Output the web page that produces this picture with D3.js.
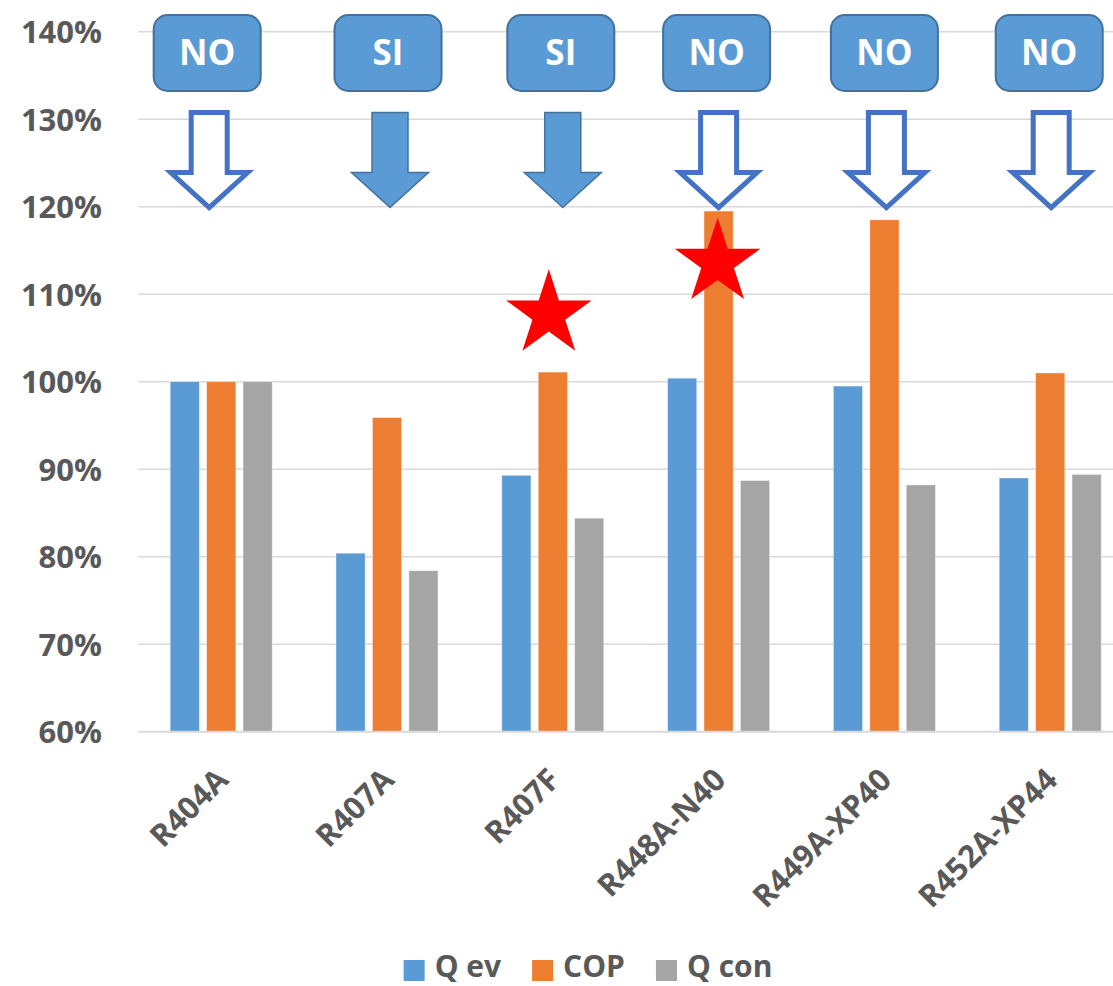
<!DOCTYPE html>
<html>
<head>
<meta charset="utf-8">
<script src="https://cdn.jsdelivr.net/npm/d3@7"></script>
<style>
  html, body { margin: 0; padding: 0; background: #ffffff; }
  svg { display: block; }
  text { font-family: "Open Sans", "Noto Sans", sans-serif; font-weight: 700; }
</style>
</head>
<body>
<svg id="chart" width="1113" height="986"></svg>
<script>
// ---- data ----
const categories = ["R404A", "R407A", "R407F", "R448A-N40", "R449A-XP40", "R452A-XP44"];
const seriesNames = ["Q ev", "COP", "Q con"];
const qEv  = [1.000, 0.804, 0.893, 1.004, 0.995, 0.890];
const cop  = [1.000, 0.959, 1.011, 1.195, 1.185, 1.010];
const qCon = [1.000, 0.784, 0.844, 0.887, 0.882, 0.894];
const yTicks = [0.6, 0.7, 0.8, 0.9, 1.0, 1.1, 1.2, 1.3, 1.4];
// annotations
const verdicts = ["NO", "SI", "SI", "NO", "NO", "NO"];
const starCategories = ["R407F", "R448A-N40"];
const starValues = [1.077, 1.136];

// ---- layout (not data) ----
const colors = ["#5b9bd5", "#ed7d31", "#a5a5a5"];
const boxDx = [-14, 1, 8, -2, 0, -1];
const starDx = [-4, -1];
const W = 1113, H = 986;
const plot = { left: 138.3, right: 1133.1, top: 31.7, bottom: 731.7 };
const textColor = "#595959";

const svg = d3.select("#chart");

const x = d3.scaleBand().domain(categories).range([plot.left, plot.right]).padding(0);
const groupW = 102;
const xs = d3.scaleBand().domain(seriesNames).range([0, groupW]).paddingInner(0.2).paddingOuter(0);
const y = d3.scaleLinear().domain([0.6, 1.4]).range([plot.bottom, plot.top]);

// gridlines
svg.append("g").selectAll("line").data(yTicks.slice(1)).join("line")
  .attr("x1", plot.left).attr("x2", W)
  .attr("y1", d => y(d)).attr("y2", d => y(d))
  .attr("stroke", "#d9d9d9").attr("stroke-width", 1.5);

// y axis labels
const yAxis = d3.axisLeft(y).tickValues(yTicks).tickFormat(d3.format(".0%")).tickSize(0).tickPadding(0);
const gy = svg.append("g").attr("transform", `translate(102,0)`).call(yAxis);
gy.select(".domain").remove();
gy.selectAll("text").attr("fill", textColor).attr("font-size", 31)
  .attr("font-family", '"Open Sans", sans-serif').attr("font-weight", 700)
  .attr("dy", "0.35em").attr("x", 0);

// bars
const seriesData = [qEv, cop, qCon];
const groups = svg.append("g").selectAll("g").data(categories).join("g")
  .attr("transform", d => `translate(${x(d) + (x.bandwidth() - groupW) / 2},0)`);
groups.selectAll("rect").data((c, i) => seriesNames.map((s, j) => ({ s, j, v: seriesData[j][i] })))
  .join("rect")
  .attr("x", d => xs(d.s))
  .attr("width", xs.bandwidth())
  .attr("y", d => y(d.v))
  .attr("height", d => y(0.6) - y(d.v))
  .attr("fill", d => colors[d.j])
  .attr("stroke", "#ffffff").attr("stroke-width", 0.75).attr("stroke-opacity", 0.5);

// bottom axis line
svg.append("line").attr("x1", plot.left).attr("x2", W)
  .attr("y1", y(0.6)).attr("y2", y(0.6))
  .attr("stroke", "#d9d9d9").attr("stroke-width", 2);

// x labels
const xAxis = d3.axisBottom(x).tickSize(0).tickPadding(0);
const gx = svg.append("g").attr("transform", `translate(0,${plot.bottom})`).call(xAxis);
gx.select(".domain").remove();
gx.selectAll(".tick text")
  .attr("fill", textColor).attr("font-size", 31)
  .attr("font-family", '"Open Sans", sans-serif').attr("font-weight", 700)
  .attr("text-anchor", "end").attr("y", 0).attr("dy", 0)
  .attr("transform", "translate(9,50) rotate(-45)");

// star shape
function starPath(R) {
  const r = R * 0.382;
  const pts = [];
  for (let k = 0; k < 10; k++) {
    const rad = k % 2 === 0 ? R : r;
    const a = -Math.PI / 2 + k * Math.PI / 5;
    pts.push([rad * Math.cos(a), rad * Math.sin(a)]);
  }
  return "M" + pts.map(p => p.join(",")).join("L") + "Z";
}
svg.append("g").selectAll("path").data(starCategories).join("path")
  .attr("d", starPath(45))
  .attr("transform", (c, i) => `translate(${x(c) + x.bandwidth() / 2 + starDx[i]},${y(starValues[i])})`)
  .attr("fill", "#ff0000");

// verdict boxes and arrows
const ann = svg.append("g").selectAll("g").data(categories).join("g")
  .attr("transform", (c, i) => `translate(${x(c) + x.bandwidth() / 2 + boxDx[i]},0)`);
ann.append("rect")
  .attr("x", -53.5).attr("y", 15).attr("width", 107).attr("height", 76)
  .attr("rx", 14).attr("ry", 14)
  .attr("fill", "#5b9bd5").attr("stroke", "#41719c").attr("stroke-width", 2);
ann.append("text")
  .attr("x", 0).attr("y", 53).attr("dy", "0.35em")
  .attr("text-anchor", "middle").attr("fill", "#ffffff")
  .attr("font-size", 35)
  .text((c, i) => verdicts[i]);
function arrowPath() {
  const sw = 18, hw = 38.5, top = 112.5, hy = 172.5, tip = 207.5;
  return `M${-sw},${top}L${sw},${top}L${sw},${hy}L${hw},${hy}L0,${tip}L${-hw},${hy}L${-sw},${hy}Z`;
}
ann.append("path")
  .attr("d", arrowPath())
  .attr("transform", "translate(2,0)")
  .attr("fill", (c, i) => verdicts[i] === "SI" ? "#5b9bd5" : "#ffffff")
  .attr("stroke", (c, i) => verdicts[i] === "SI" ? "#41719c" : "#4472c4")
  .attr("stroke-width", (c, i) => verdicts[i] === "SI" ? 1.5 : 5)
  .attr("stroke-linejoin", "miter");

// legend
const legend = svg.append("g");
let lx = 0;
const items = legend.selectAll("g").data(seriesNames).join("g");
items.append("rect").attr("width", 21).attr("height", 21).attr("y", -10.5)
  .attr("fill", (d, i) => colors[i]);
items.append("text").attr("x", 31).attr("y", 6.5)
  .attr("fill", textColor).attr("font-size", 30).text(d => d);
items.each(function () {
  const g = d3.select(this);
  g.attr("transform", `translate(${lx},0)`);
  const tw = g.select("text").node().getComputedTextLength();
  lx += 31 + tw + 31;
});
const totalW = lx - 31;
legend.attr("transform", `translate(${588 - totalW / 2},970.5)`);
</script>
</body>
</html>
